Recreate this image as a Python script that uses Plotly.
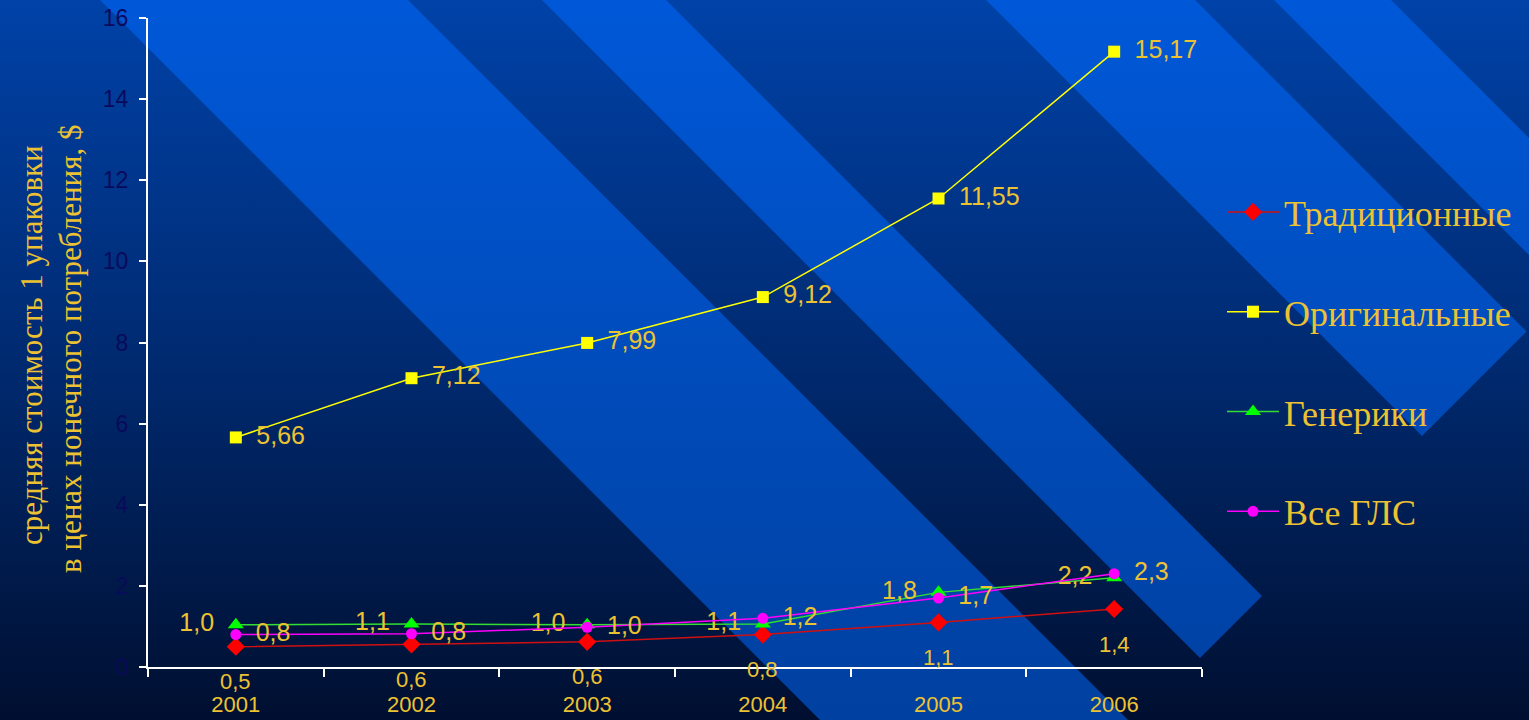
import base64
import plotly.graph_objects as go

years = ["2001", "2002", "2003", "2004", "2005", "2006"]
traditional = [0.5, 0.56, 0.62, 0.8, 1.1, 1.43]
original = [5.66, 7.12, 7.99, 9.12, 11.55, 15.17]
generics = [1.04, 1.06, 1.04, 1.06, 1.84, 2.2]
all_gls = [0.8, 0.82, 0.98, 1.2, 1.7, 2.3]
names = ["Традиционные", "Оригинальные", "Генерики", "Все ГЛС"]
y_title_1 = "средняя стоимость 1 упаковки"
y_title_2 = "в ценах нонечного потребления, $"

W, H = 1529, 720
L, R, T, B = 148, 327, 18, 53
PW, PH = W - L - R, H - T - B

GOLD = "#ecc232"
SANS = "Liberation Sans, Arial, sans-serif"
SERIF = "Liberation Serif, Times New Roman, serif"
GAP = "\u00a0\u2009"
LBL = 25

# background artwork (gradient + diagonal stripes) as an SVG image
def stripe(c1, c2, cut=1858, top=-60):
    pts = [(c1 + top, top), (c2 + top, top),
           ((c2 + cut) / 2, (cut - c2) / 2), ((c1 + cut) / 2, (cut - c1) / 2)]
    return " ".join(f"{x:.1f},{y:.1f}" for x, y in pts)

stripes = [(100, 408), (542, 666), (986, 1195), (1274, 1391)]
polys = "".join(f'<polygon points="{stripe(a, b)}" fill="url(#st)"/>' for a, b in stripes)
svg = f'''<svg xmlns="http://www.w3.org/2000/svg" width="{W}" height="{H}" viewBox="0 0 {W} {H}" preserveAspectRatio="none">
<defs>
<linearGradient id="bg" x1="0" y1="0" x2="0" y2="1">
<stop offset="0" stop-color="#0042a8"/>
<stop offset="0.5" stop-color="#002a70"/>
<stop offset="1" stop-color="#000f30"/>
</linearGradient>
<linearGradient id="st" gradientUnits="userSpaceOnUse" x1="0" y1="0" x2="0" y2="{H}">
<stop offset="0" stop-color="#0058d8"/>
<stop offset="1" stop-color="#0040a0"/>
</linearGradient>
</defs>
<rect width="{W}" height="{H}" fill="url(#bg)"/>
{polys}
</svg>'''
src = "data:image/svg+xml;base64," + base64.b64encode(svg.encode()).decode()

fig = go.Figure()

fig.add_trace(go.Scatter(
    x=years, y=traditional, name=names[0], mode="lines+markers",
    line=dict(color="#d01010", width=1.5),
    marker=dict(symbol="diamond", size=14, color="#ff0000"),
    legendgroup="a", hoverinfo="skip"))
fig.add_trace(go.Scatter(
    x=years, y=original, name=names[1], mode="lines+markers+text",
    line=dict(color="#ffff00", width=1.5),
    marker=dict(symbol="square", size=12, color="#ffff00"),
    texttemplate=GAP + "%{y:.2f}", textposition="middle right",
    textfont=dict(family=SANS, size=LBL, color=GOLD),
    legendgroup="b", hoverinfo="skip"))
fig.add_trace(go.Scatter(
    x=years, y=generics, name=names[2], mode="lines+markers+text",
    line=dict(color="#33dd33", width=1.5),
    marker=dict(symbol="triangle-up", size=14, color="#00ff00"),
    texttemplate="%{y:.1f}" + GAP, textposition="middle left",
    textfont=dict(family=SANS, size=LBL, color=GOLD),
    legendgroup="c", hoverinfo="skip"))
fig.add_trace(go.Scatter(
    x=years, y=all_gls, name=names[3], mode="lines+markers+text",
    line=dict(color="#ff00ff", width=1.5),
    marker=dict(symbol="circle", size=11, color="#ff00ff"),
    texttemplate=GAP + "%{y:.1f}", textposition="middle right",
    textfont=dict(family=SANS, size=LBL, color=GOLD),
    legendgroup="d", hoverinfo="skip"))

# labels of the first series sit well below their points
for i, yv in enumerate(traditional):
    fig.add_annotation(x=i, y=yv, xref="x", yref="y", text=f"{yv:.1f}".replace(".", ","),
                       showarrow=False, yshift=-35, xanchor="center", yanchor="middle",
                       font=dict(family=SANS, size=22, color=GOLD))

fig.add_annotation(xref="paper", yref="paper", x=(31 - L) / PW, y=(H - B - 345) / PH,
                   text=y_title_1, textangle=-90, showarrow=False,
                   xanchor="center", yanchor="middle",
                   font=dict(family=SERIF, size=31, color=GOLD))
fig.add_annotation(xref="paper", yref="paper", x=(70 - L) / PW, y=(H - B - 349) / PH,
                   text=y_title_2, textangle=-90, showarrow=False,
                   xanchor="center", yanchor="middle",
                   font=dict(family=SERIF, size=31, color=GOLD))

fig.add_layout_image(dict(source=src, xref="paper", yref="paper",
                          x=-L / PW, y=(H - B) / PH, sizex=W / PW, sizey=H / PH,
                          xanchor="left", yanchor="top", sizing="stretch", layer="below"))

fig.update_layout(
    width=W, height=H,
    margin=dict(l=L, r=R, t=T, b=B, pad=0, autoexpand=False),
    paper_bgcolor="#002466", plot_bgcolor="rgba(0,0,0,0)",
    separators=", ",
    showlegend=True,
    legend=dict(x=(1222 - L) / PW, y=(H - B - 182) / PH, xanchor="left", yanchor="top",
                bgcolor="rgba(0,0,0,0)", font=dict(family=SERIF, size=36, color=GOLD),
                tracegroupgap=50, itemwidth=52, traceorder="grouped"),
    xaxis=dict(type="category", range=[-0.5, 5.5], showgrid=False, zeroline=False,
               showline=True, linecolor="white", linewidth=2, automargin=False,
               ticks="outside", tickson="boundaries", ticklen=8, tickcolor="white", tickwidth=2,
               tickfont=dict(family=SANS, size=22, color=GOLD), ticklabelstandoff=17,
               fixedrange=True),
    yaxis=dict(range=[0, 16], dtick=2, tick0=0, showgrid=False, zeroline=False,
               showline=True, linecolor="white", linewidth=2, automargin=False,
               ticks="outside", ticklen=7, tickcolor="white", tickwidth=2,
               tickfont=dict(family=SANS, size=23, color="#0a0a5c"), ticklabelstandoff=6,
               fixedrange=True),
)

fig.write_html("out.html", config={"displayModeBar": False},
               post_script="document.body.style.margin='0';")
